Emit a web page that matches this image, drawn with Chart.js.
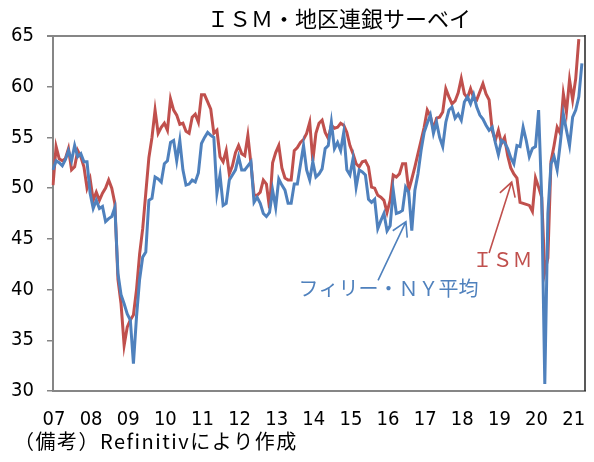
<!DOCTYPE html>
<html lang="ja">
<head>
<meta charset="utf-8">
<title>ISM・地区連銀サーベイ</title>
<script src="https://cdn.jsdelivr.net/npm/chart.js@4.4.1/dist/chart.umd.min.js"></script>
<style>
  html, body { margin: 0; padding: 0; background: #fff; }
</style>
</head>
<body>
<canvas id="chart" width="594" height="462"></canvas>
<script>
/* ──────────────────────────────────────────
   ISM vs regional Fed surveys (monthly, from Jan 2007)
   ────────────────────────────────────────── */

var START_YEAR = 2007;
var AXIS_MONTHS = 173;   // Jan 2007 .. May 2021
var YEAR_TICKS = ["07","08","09","10","11","12","13","14","15","16","17","18","19","20","21"];

// ISM manufacturing, Jan 2007 .. Mar 2021
var ISM = [
  50.3, 54.1, 52.9, 52.7, 52.9, 53.9, 51.8, 52.1, 53.7, 53.1, 52.1, 50.0,
  50.9, 48.8, 49.6, 48.8, 49.5, 50.0, 50.8, 50.0, 48.5, 41.0, 38.6, 34.5,
  36.3, 37.0, 37.5, 40.0, 43.5, 46.0, 49.5, 53.0, 55.0, 57.7, 55.4, 56.0,
  56.4, 55.7, 58.8, 57.7, 57.2, 56.3, 56.4, 55.6, 55.4, 57.0, 57.3, 56.5,
  59.2, 59.2, 58.5, 57.8, 55.4, 55.7, 53.1, 52.6, 53.7, 51.4, 52.2, 53.5,
  54.2, 53.4, 53.2, 55.2, 52.4, 49.3, 49.3, 49.6, 50.8, 50.4, 48.0, 52.5,
  53.5, 54.2, 52.0, 51.0, 50.8, 50.8, 53.7, 54.0, 54.5, 54.8, 55.4, 56.5,
  52.7, 55.4, 56.4, 56.7, 55.5, 54.9, 56.2, 55.9, 56.0, 56.4, 56.2, 55.5,
  54.2, 53.4, 52.4, 52.1, 52.6, 52.7, 52.1, 50.1, 50.0, 49.3, 49.1, 48.8,
  47.6, 48.8, 51.3, 51.1, 51.4, 52.4, 52.4, 49.8, 50.9, 52.1, 53.4, 54.7,
  56.0, 57.7, 57.1, 55.8, 56.9, 57.0, 57.5, 59.8, 59.0, 58.3, 58.6, 59.4,
  60.8, 59.3, 58.9, 59.8, 58.9, 58.7, 59.5, 60.3, 59.3, 58.7, 55.7, 54.7,
  55.7, 54.4, 55.0, 53.2, 52.0, 51.4, 51.0, 48.6, 48.5, 48.4, 48.3, 47.7,
  51.0, 50.1, 49.1, 41.7, 43.1, 52.6, 54.2, 56.0, 55.4, 59.3, 57.5, 60.7,
  58.7, 60.8, 64.7
];

// Philadelphia / New York Fed average, Jan 2007 .. Apr 2021
var PHILLY_NY = [
  51.8, 52.7, 52.5, 52.2, 52.8, 53.7, 52.7, 54.2, 53.1, 53.4, 52.6, 52.6,
  49.5, 48.0, 48.8, 48.0, 48.2, 46.7, 47.0, 47.2, 48.1, 41.6, 39.5, 38.6,
  37.6, 37.0, 32.7, 37.3, 41.0, 43.2, 43.7, 48.8, 49.0, 51.1, 50.9, 50.6,
  52.4, 52.7, 54.5, 54.7, 52.7, 54.7, 51.8, 50.3, 50.4, 50.8, 50.6, 51.5,
  54.4, 55.0, 55.5, 55.2, 55.0, 49.5, 51.3, 48.3, 48.5, 50.8, 51.3, 51.8,
  53.1, 51.8, 51.8, 52.2, 52.6, 48.6, 49.1, 48.5, 47.5, 47.2, 47.6, 49.8,
  48.1, 50.9, 50.3, 49.8, 48.5, 48.5, 50.4, 50.4, 52.3, 54.2, 51.8, 50.8,
  52.6, 51.1, 51.4, 51.9, 53.9, 54.2, 56.5, 53.9, 54.5, 53.7, 55.5, 51.8,
  51.3, 52.9, 50.1, 51.8, 51.6, 51.3, 48.9, 48.6, 48.9, 46.0, 46.8, 47.5,
  45.8, 46.3, 49.8, 47.5, 47.6, 47.8, 50.1, 49.6, 45.8, 49.8, 51.4, 53.7,
  55.5, 56.4, 57.2, 55.4, 56.5, 55.0, 54.1, 56.5, 57.7, 58.0, 56.9, 57.3,
  56.7, 58.5, 59.0, 58.3, 59.2, 58.0, 57.2, 56.8, 56.2, 55.7, 56.0, 54.5,
  53.3, 54.7, 54.5, 53.9, 53.0, 52.4, 54.2, 54.1, 56.0, 54.7, 53.1, 53.9,
  54.1, 57.7, 49.1, 30.7, 47.5, 52.4, 53.1, 51.8, 54.4, 57.3, 55.7, 54.2,
  57.0, 57.7, 59.0, 62.3
];

var RED = "#C0504D";
var BLUE = "#4F81BD";
var AXIS_GREY = "#868686";
var NUM_FAMILY = "'Liberation Sans Narrow','DejaVu Sans Condensed','Noto Sans',sans-serif";
var JP_FAMILY = "'Noto Sans CJK JP','Noto Sans',sans-serif";

/* month categories */
var months = [];
for (var m = 0; m < AXIS_MONTHS; m++) {
  var yr = START_YEAR + Math.floor(m / 12);
  months.push(yr + "-" + ("0" + (m % 12 + 1)).slice(-2));
}

/* callout labels, anchored in (month index, value) */
var NOTES = [
  { text: "フィリー・ＮＹ平均", color: BLUE, at: [108.5, 40.1], tail: [105.1, 40.9], tip: [114.1, 46.7] },
  { text: "ＩＳＭ", color: RED, at: [145.3, 43.0], tail: [141.0, 43.6], tip: [148.3, 50.6] }
];

function arrow(ctx, x0, y0, x1, y1, color) {
  var ang = Math.atan2(y0 - y1, x0 - x1), len = 16, spread = Math.PI / 6;
  ctx.strokeStyle = color;
  ctx.lineWidth = 1.6;
  ctx.beginPath();
  ctx.moveTo(x0, y0);
  ctx.lineTo(x1, y1);
  ctx.moveTo(x1 + len * Math.cos(ang + spread), y1 + len * Math.sin(ang + spread));
  ctx.lineTo(x1, y1);
  ctx.lineTo(x1 + len * Math.cos(ang - spread), y1 + len * Math.sin(ang - spread));
  ctx.stroke();
}

var decor = {
  id: "decor",
  afterDraw: function(chart) {
    var a = chart.chartArea, ctx = chart.ctx;
    var sx = chart.scales.x, sy = chart.scales.y;
    ctx.save();

    /* top (grey) and right (dark) frame */
    ctx.strokeStyle = AXIS_GREY;
    ctx.lineWidth = 2;
    ctx.beginPath();
    ctx.moveTo(a.left - 6, a.top);
    ctx.lineTo(a.right, a.top);
    ctx.stroke();
    ctx.strokeStyle = "#222";
    ctx.lineWidth = 1.5;
    ctx.beginPath();
    ctx.moveTo(a.right, a.top - 1);
    ctx.lineTo(a.right, a.bottom);
    ctx.stroke();

    /* title */
    ctx.fillStyle = "#000";
    ctx.font = "22px " + JP_FAMILY;
    ctx.textAlign = "center";
    ctx.textBaseline = "middle";
    ctx.fillText("ＩＳＭ・地区連銀サーベイ", 339, 19);

    /* source note */
    ctx.font = "20px " + JP_FAMILY;
    ctx.textAlign = "left";
    ctx.letterSpacing = "1.5px";
    ctx.fillText("（備考）Refinitivにより作成", 14, 441);
    ctx.letterSpacing = "0px";

    /* callouts */
    ctx.font = "20px " + JP_FAMILY;
    ctx.textAlign = "center";
    NOTES.forEach(function(n) {
      ctx.fillStyle = n.color;
      ctx.fillText(n.text, sx.getPixelForValue(n.at[0]), sy.getPixelForValue(n.at[1]));
      arrow(ctx,
        sx.getPixelForValue(n.tail[0]), sy.getPixelForValue(n.tail[1]),
        sx.getPixelForValue(n.tip[0]), sy.getPixelForValue(n.tip[1]), n.color);
    });
    ctx.restore();
  }
};

new Chart(document.getElementById("chart").getContext("2d"), {
  type: "line",
  data: {
    labels: months,
    datasets: [
      { label: "フィリー・ＮＹ平均", data: PHILLY_NY, borderColor: BLUE, borderWidth: 3, pointRadius: 0, tension: 0, order: 0 },
      { label: "ＩＳＭ", data: ISM, borderColor: RED, borderWidth: 3, pointRadius: 0, tension: 0, order: 1 }
    ]
  },
  options: {
    responsive: false, animation: false, devicePixelRatio: 1,
    layout: { padding: { top: 36, right: 9, left: 0, bottom: 0 }, autoPadding: false },
    plugins: { legend: { display: false }, title: { display: false }, tooltip: { enabled: false } },
    scales: {
      x: {
        type: "category", offset: false,
        grid: { display: false },
        border: { color: AXIS_GREY, width: 2 },
        ticks: {
          autoSkip: false, maxRotation: 0, minRotation: 0, padding: 9, labelOffset: 1,
          color: "#000", font: { family: NUM_FAMILY, size: 20 },
          callback: function(v, i) { return i % 12 === 0 ? YEAR_TICKS[i / 12] : ""; }
        },
        afterFit: function(s) { s.height = 71; }
      },
      y: {
        min: 30, max: 65,
        grid: { drawOnChartArea: false, drawTicks: true, tickLength: 6, color: AXIS_GREY, lineWidth: 1.5 },
        border: { color: AXIS_GREY, width: 2 },
        ticks: { stepSize: 5, padding: 13, color: "#000", font: { family: NUM_FAMILY, size: 20 } },
        afterFit: function(s) { s.width = 53; }
      }
    }
  },
  plugins: [decor]
});
</script>
</body>
</html>
